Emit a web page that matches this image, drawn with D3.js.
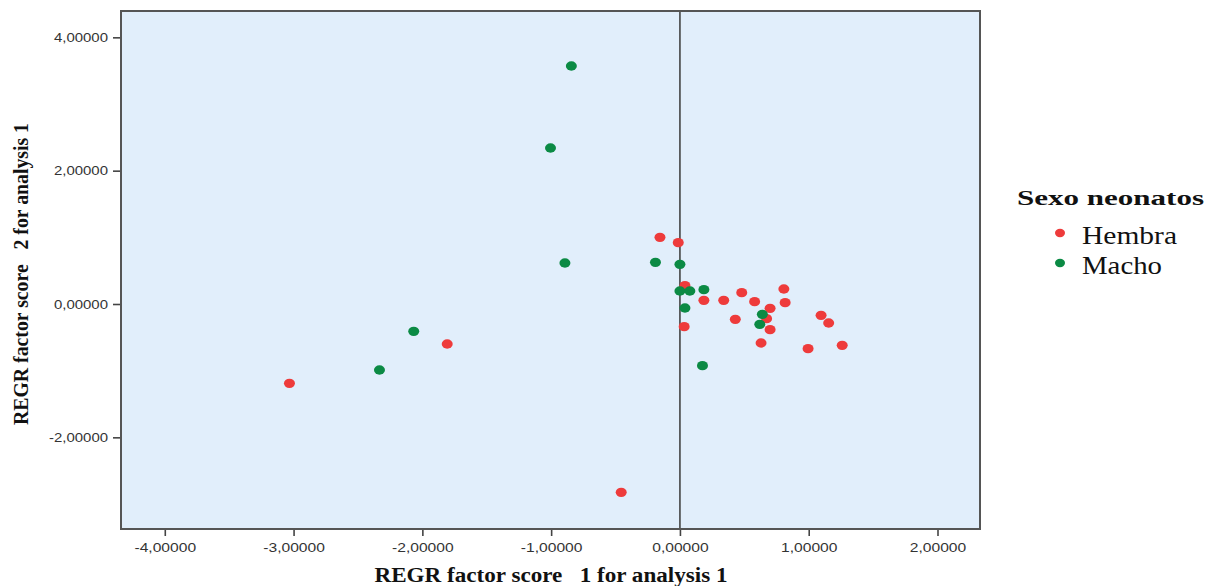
<!DOCTYPE html>
<html>
<head>
<meta charset="utf-8">
<script src="https://cdn.jsdelivr.net/npm/d3@7"></script>
<style>
  body { margin: 0; background: #fff; }
  svg text { white-space: pre; }
</style>
</head>
<body>
<svg></svg>
<script>
// data
const hembraX = [-0.155, -0.013, 0.039, 0.186, 0.34, 0.48, 0.58, 0.807, 0.817, 0.033, 0.43, 0.70, 0.673, 0.70, 1.096, 1.155, 0.63, 0.995, 1.26, -1.807, -3.032, -0.456];
const hembraY = [1.0, 0.92, 0.275, 0.055, 0.055, 0.17, 0.035, 0.225, 0.02, -0.34, -0.23, -0.065, -0.22, -0.385, -0.17, -0.285, -0.585, -0.67, -0.62, -0.60, -1.19, -2.825];
const machoX = [-0.843, -1.005, -0.893, -0.19, 0.0, 0.0, 0.077, 0.186, 0.039, 0.64, 0.62, 0.175, -2.067, -2.333];
const machoY = [3.57, 2.34, 0.615, 0.625, 0.595, 0.195, 0.195, 0.215, -0.06, -0.155, -0.305, -0.925, -0.41, -0.99];
const xTicks = [-4, -3, -2, -1, 0, 1, 2];
const yTicks = [-2, 0, 2, 4];
const groups = ["Hembra", "Macho"];
const colors = ["#ee3b3b", "#0b8a44"];

const width = 1219;
const height = 586;
const m = { left: 121, right: 239, top: 11, bottom: 57 };
const serif = "'Liberation Serif', 'Times New Roman', serif";
const sans = "'Liberation Sans', Arial, sans-serif";

const svg = d3.select("svg")
  .attr("width", width)
  .attr("height", height)
  .style("font-family", sans);

const x = d3.scaleLinear().domain([-4.34, 2.33]).range([m.left, width - m.right]);
const y = d3.scaleLinear().domain([-3.375, 4.395]).range([height - m.bottom, m.top]);

// the picture is stretched sideways a bit, so text gets widened to fit
function widen(sel, k) {
  sel.each(function () {
    const w = this.getComputedTextLength();
    d3.select(this).attr("textLength", w * k).attr("lengthAdjust", "spacingAndGlyphs");
  });
}

// plot background
svg.append("rect")
  .attr("x", x.range()[0]).attr("y", m.top)
  .attr("width", x.range()[1] - x.range()[0])
  .attr("height", y.range()[0] - m.top)
  .attr("fill", "#e1eefb");

// reference line at x = 0
svg.append("line")
  .attr("x1", x(0)).attr("x2", x(0))
  .attr("y1", m.top).attr("y2", y.range()[0])
  .attr("stroke", "#444").attr("stroke-width", 1.6);

// axes
const fmt = d => d3.format(".5f")(d).replace(".", ",").replace("−", "-");
const xAxis = svg.append("g")
  .attr("transform", `translate(0,${y.range()[0]})`)
  .call(d3.axisBottom(x).tickValues(xTicks).tickFormat(fmt).tickSize(7).tickSizeOuter(0));
const yAxis = svg.append("g")
  .attr("transform", `translate(${m.left},0)`)
  .call(d3.axisLeft(y).tickValues(yTicks).tickFormat(fmt).tickSize(8).tickSizeOuter(0));

[xAxis, yAxis].forEach(g => {
  g.select(".domain").remove();
  g.selectAll("line").attr("stroke", "#444").attr("stroke-width", 1.6);
  g.selectAll("text").attr("fill", "#333").style("font-size", "13px")
    .style("font-family", sans);
});
xAxis.selectAll("text").attr("y", 23).attr("dy", 0);
yAxis.selectAll("text").attr("x", -13);
widen(xAxis.selectAll("text"), 1.2);
widen(yAxis.selectAll("text"), 1.15);

// points
const series = [
  { name: groups[0], xs: hembraX, ys: hembraY, color: colors[0] },
  { name: groups[1], xs: machoX, ys: machoY, color: colors[1] }
];
series.forEach(s => {
  svg.append("g").selectAll("ellipse")
    .data(s.xs.map((v, i) => [v, s.ys[i]]))
    .join("ellipse")
    .attr("cx", d => x(d[0]))
    .attr("cy", d => y(d[1]))
    .attr("rx", 5.5).attr("ry", 4.7)
    .attr("fill", s.color);
});

// frame
svg.append("rect")
  .attr("x", x.range()[0]).attr("y", m.top)
  .attr("width", x.range()[1] - x.range()[0])
  .attr("height", y.range()[0] - m.top)
  .attr("fill", "none")
  .attr("stroke", "#555").attr("stroke-width", 2);

// axis titles
svg.append("text")
  .attr("x", 551).attr("y", 582)
  .attr("text-anchor", "middle")
  .attr("textLength", 353).attr("lengthAdjust", "spacingAndGlyphs")
  .style("font-family", serif)
  .style("font-weight", "bold").style("font-size", "20px")
  .attr("fill", "#111")
  .text("REGR factor score   1 for analysis 1");

svg.append("text")
  .attr("transform", "translate(28,274) rotate(-90)")
  .attr("text-anchor", "middle")
  .attr("textLength", 302).attr("lengthAdjust", "spacingAndGlyphs")
  .style("font-family", serif)
  .style("font-weight", "bold").style("font-size", "20px")
  .attr("fill", "#111")
  .text("REGR factor score   2 for analysis 1");

// legend
const legend = svg.append("g");
legend.append("text")
  .attr("x", 1017).attr("y", 205)
  .attr("textLength", 187).attr("lengthAdjust", "spacingAndGlyphs")
  .style("font-family", serif)
  .style("font-weight", "bold").style("font-size", "21px")
  .attr("fill", "#111")
  .text("Sexo neonatos");
const itemW = [95, 80];
series.forEach((s, i) => {
  const ly = 244 + i * 30;
  legend.append("ellipse")
    .attr("cx", 1060).attr("cy", ly - 11)
    .attr("rx", 5).attr("ry", 4.2)
    .attr("fill", s.color);
  legend.append("text")
    .attr("x", 1082).attr("y", ly)
    .attr("textLength", itemW[i]).attr("lengthAdjust", "spacingAndGlyphs")
    .style("font-family", serif)
    .style("font-size", "25px")
    .attr("fill", "#111")
    .text(s.name);
});
</script>
</body>
</html>
